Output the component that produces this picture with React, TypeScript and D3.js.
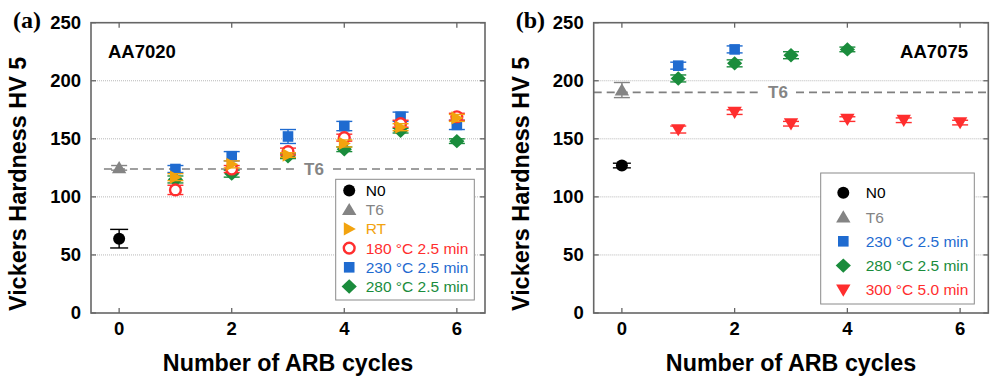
import * as d3 from 'd3';
import React from 'react';

// ---- data ----
const xTicks = [0, 2, 4, 6];
const yTicks = [0, 50, 100, 150, 200, 250];
const gridTicks = [50, 100, 150, 200];

// panel (a) AA7020
const n0A_x = [0];
const n0A_y = [64];
const n0A_e = [8];
const t6A_x = [0];
const t6A_y = [125];
const t6A_e = [2];
const cycA = [1, 2, 3, 4, 5, 6];
const rtA_y = [117, 128, 136, 146, 160, 168];
const rtA_e = [3, 3, 2, 3, 3, 3];
const c180A_y = [106, 124, 139, 151, 163, 169];
const c180A_e = [4, 3, 3, 3, 3, 3];
const c230A_y = [124, 135, 152, 161, 169, 162];
const c230A_e = [3, 4, 6, 4, 4, 4];
const c280A_y = [115, 120, 135, 141, 157, 148];
const c280A_e = [3, 3, 2, 2, 2, 2];
const t6LineA = 124;

// panel (b) AA7075
const n0B_x = [0];
const n0B_y = [127];
const n0B_e = [2];
const t6B_x = [0];
const t6B_y = [192];
const t6B_e = [6.5];
const c230B_x = [1, 2];
const c230B_y = [213, 227];
const c230B_e = [3, 3];
const c280B_x = [1, 2, 3, 4];
const c280B_y = [202, 215, 222, 227];
const c280B_e = [3, 3, 3, 2];
const c300B_x = [1, 2, 3, 4, 5, 6];
const c300B_y = [158, 173, 163, 167, 166, 164];
const c300B_e = [3, 2, 2, 2, 2, 2];
const t6LineB = 190;

const COL = {
  black: '#000000',
  gray: '#848484',
  orange: '#f2a30f',
  red: '#ff2e2e',
  blue: '#1f6bd0',
  green: '#1a8c3c',
};

type Shape = 'circle' | 'ocircle' | 'tri' | 'rtri' | 'dtri' | 'square' | 'diamond';

interface Series {
  label: string;
  shape: Shape;
  color: string;
  xs: number[];
  ys: number[];
  es: number[];
}

const seriesA: Series[] = [
  { label: 'N0', shape: 'circle', color: COL.black, xs: n0A_x, ys: n0A_y, es: n0A_e },
  { label: 'T6', shape: 'tri', color: COL.gray, xs: t6A_x, ys: t6A_y, es: t6A_e },
  { label: 'RT', shape: 'rtri', color: COL.orange, xs: cycA, ys: rtA_y, es: rtA_e },
  { label: '180 °C 2.5 min', shape: 'ocircle', color: COL.red, xs: cycA, ys: c180A_y, es: c180A_e },
  { label: '230 °C 2.5 min', shape: 'square', color: COL.blue, xs: cycA, ys: c230A_y, es: c230A_e },
  { label: '280 °C 2.5 min', shape: 'diamond', color: COL.green, xs: cycA, ys: c280A_y, es: c280A_e },
];
// drawing order for (a): orange on top
const drawOrderA = [0, 1, 5, 4, 3, 2];

const seriesB: Series[] = [
  { label: 'N0', shape: 'circle', color: COL.black, xs: n0B_x, ys: n0B_y, es: n0B_e },
  { label: 'T6', shape: 'tri', color: COL.gray, xs: t6B_x, ys: t6B_y, es: t6B_e },
  { label: '230 °C 2.5 min', shape: 'square', color: COL.blue, xs: c230B_x, ys: c230B_y, es: c230B_e },
  { label: '280 °C 2.5 min', shape: 'diamond', color: COL.green, xs: c280B_x, ys: c280B_y, es: c280B_e },
  { label: '300 °C 5.0 min', shape: 'dtri', color: COL.red, xs: c300B_x, ys: c300B_y, es: c300B_e },
];
const drawOrderB = [0, 1, 4, 3, 2];

const FONT = '"Liberation Sans", Arial, Helvetica, sans-serif';

function Marker({ shape, color, cx, cy }: { shape: Shape; color: string; cx: number; cy: number }) {
  switch (shape) {
    case 'circle':
      return <circle cx={cx} cy={cy} r={6} fill={color} />;
    case 'ocircle':
      return <circle cx={cx} cy={cy} r={5.4} fill="#fff" stroke={color} strokeWidth={2.4} />;
    case 'square':
      return <rect x={cx - 5.3} y={cy - 5.3} width={10.6} height={10.6} fill={color} />;
    case 'diamond':
      return <path d={`M${cx},${cy - 7.2}L${cx + 7.6},${cy}L${cx},${cy + 7.2}L${cx - 7.6},${cy}Z`} fill={color} />;
    case 'tri':
      return <path d={`M${cx},${cy - 6.8}L${cx + 7.2},${cy + 5.4}L${cx - 7.2},${cy + 5.4}Z`} fill={color} />;
    case 'dtri':
      return <path d={`M${cx},${cy + 6.8}L${cx + 7.2},${cy - 5.4}L${cx - 7.2},${cy - 5.4}Z`} fill={color} />;
    case 'rtri':
      return <path d={`M${cx + 6.6},${cy}L${cx - 5.4},${cy + 6.6}L${cx - 5.4},${cy - 6.6}Z`} fill={color} />;
  }
  return null;
}

interface PanelProps {
  letter: string;
  alloy: string;
  alloyX: number;
  alloyAnchor: 'start' | 'end';
  left: number;
  right: number;
  series: Series[];
  order: number[];
  t6Value: number;
  t6Start: number;
  t6LabelX: number;
  t6LabelDy: number;
  t6GapW: number;
  legend: { x: number; y: number; w: number; h: number; row0: number; step: number; mx: number; tx: number };
}

function Panel(p: PanelProps) {
  const top = 22.7;
  const bottom = 313;
  const x = d3.scaleLinear().domain([-0.5, 6.5]).range([p.left, p.right]);
  const y = d3.scaleLinear().domain([0, 250]).range([bottom, top]);
  const tick = 5;
  const axisCol = '#666';
  const t6y = y(p.t6Value);

  const lg = p.legend;

  return (
    <g>
      {/* grid */}
      {gridTicks.map(t => (
        <line key={'g' + t} x1={p.left} x2={p.right} y1={y(t)} y2={y(t)}
          stroke="#b8b8b8" strokeWidth={1} strokeDasharray="1,1" />
      ))}

      {/* T6 reference line with gap for label */}
      <line x1={x(p.t6Start)} x2={p.t6LabelX - p.t6GapW / 2} y1={t6y} y2={t6y}
        stroke="#808080" strokeWidth={1.6} strokeDasharray="8,5" />
      <line x1={p.t6LabelX + p.t6GapW / 2} x2={p.right} y1={t6y} y2={t6y}
        stroke="#808080" strokeWidth={1.6} strokeDasharray="8,5" />
      <text x={p.t6LabelX} y={t6y + p.t6LabelDy} textAnchor="middle" fontFamily={FONT}
        fontWeight="bold" fontSize={17} fill="#858585">T6</text>

      {/* series: error bars then markers */}
      {p.order.map(si => {
        const s = p.series[si];
        const capW = s.shape === 'circle' ? 9 : 8;
        return (
          <g key={'s' + si}>
            {s.xs.map((xv, i) => {
              const cx = x(xv);
              const y1 = y(s.ys[i] + s.es[i]);
              const y2 = y(s.ys[i] - s.es[i]);
              return (
                <g key={i}>
                  <line x1={cx} x2={cx} y1={y1} y2={y2} stroke={s.color} strokeWidth={1.4} />
                  <line x1={cx - capW} x2={cx + capW} y1={y1} y2={y1} stroke={s.color} strokeWidth={1.4} />
                  <line x1={cx - capW} x2={cx + capW} y1={y2} y2={y2} stroke={s.color} strokeWidth={1.4} />
                  <Marker shape={s.shape} color={s.color} cx={cx} cy={y(s.ys[i])} />
                </g>
              );
            })}
          </g>
        );
      })}

      {/* frame */}
      <rect x={p.left} y={top} width={p.right - p.left} height={bottom - top}
        fill="none" stroke={axisCol} strokeWidth={1.6} />
      {xTicks.map(t => (
        <g key={'xt' + t}>
          <line x1={x(t)} x2={x(t)} y1={bottom} y2={bottom - tick} stroke={axisCol} strokeWidth={1.3} />
          <line x1={x(t)} x2={x(t)} y1={top} y2={top + tick} stroke={axisCol} strokeWidth={1.3} />
          <text x={x(t)} y={335} textAnchor="middle" fontFamily={FONT} fontWeight="bold"
            fontSize={18.5} fill="#000">{t}</text>
        </g>
      ))}
      {yTicks.map(t => (
        <g key={'yt' + t}>
          <line x1={p.left} x2={p.left + tick} y1={y(t)} y2={y(t)} stroke={axisCol} strokeWidth={1.3} />
          <line x1={p.right} x2={p.right - tick} y1={y(t)} y2={y(t)} stroke={axisCol} strokeWidth={1.3} />
          <text x={p.left - 10} y={y(t)} dy="0.35em" textAnchor="end" fontFamily={FONT}
            fontWeight="bold" fontSize={18.5} fill="#000">{t}</text>
        </g>
      ))}

      {/* legend */}
      <rect x={lg.x} y={lg.y} width={lg.w} height={lg.h} fill="#fff" stroke="#8a8a8a" strokeWidth={1} />
      {p.series.map((s, i) => {
        const ry = lg.row0 + i * lg.step;
        return (
          <g key={'l' + i}>
            <Marker shape={s.shape} color={s.color} cx={lg.x + lg.mx} cy={ry} />
            <text x={lg.x + lg.tx} y={ry} dy="0.36em" fontFamily={FONT} fontSize={15.5}
              fill={s.color === COL.black ? '#000' : s.color}>{s.label}</text>
          </g>
        );
      })}

      {/* labels */}
      <text x={p.alloyX} y={58} textAnchor={p.alloyAnchor} fontFamily={FONT} fontWeight="bold"
        fontSize={18.5} fill="#000">{p.alloy}</text>
      <text x={p.left - 78} y={28} fontFamily='"Liberation Serif", "Times New Roman", serif'
        fontWeight="bold" fontSize={24} fill="#000">{p.letter}</text>
      <text transform={`translate(${p.left - 65},${(top + bottom) / 2 + 16}) rotate(-90)`}
        textAnchor="middle" fontFamily={FONT} fontWeight="bold" fontSize={23.4} fill="#000">
        Vickers Hardness HV 5
      </text>
      <text x={(p.left + p.right) / 2} y={371} textAnchor="middle" fontFamily={FONT}
        fontWeight="bold" fontSize={23.3} fill="#000">Number of ARB cycles</text>
    </g>
  );
}

export default function App() {
  return (
    <svg width={990} height={379} viewBox="0 0 990 379"
      style={{ position: 'absolute', left: 0, top: 0, background: '#fff' }}>
      <Panel letter="(a)" alloy="AA7020" alloyX={108} alloyAnchor="start"
        left={91} right={485} series={seriesA} order={drawOrderA}
        t6Value={t6LineA} t6Start={-0.27} t6LabelX={314} t6LabelDy={6} t6GapW={38}
        legend={{ x: 335.7, y: 179.3, w: 138.6, h: 120.7, row0: 190.5, step: 19.2, mx: 13.5, tx: 30 }} />
      <Panel letter="(b)" alloy="AA7075" alloyX={968} alloyAnchor="end"
        left={593.7} right={988.3} series={seriesB} order={drawOrderB}
        t6Value={t6LineB} t6Start={-0.5} t6LabelX={778} t6LabelDy={6} t6GapW={36}
        legend={{ x: 820.7, y: 173, w: 153.6, h: 131, row0: 192.7, step: 24.3, mx: 22.6, tx: 45 }} />
    </svg>
  );
}
